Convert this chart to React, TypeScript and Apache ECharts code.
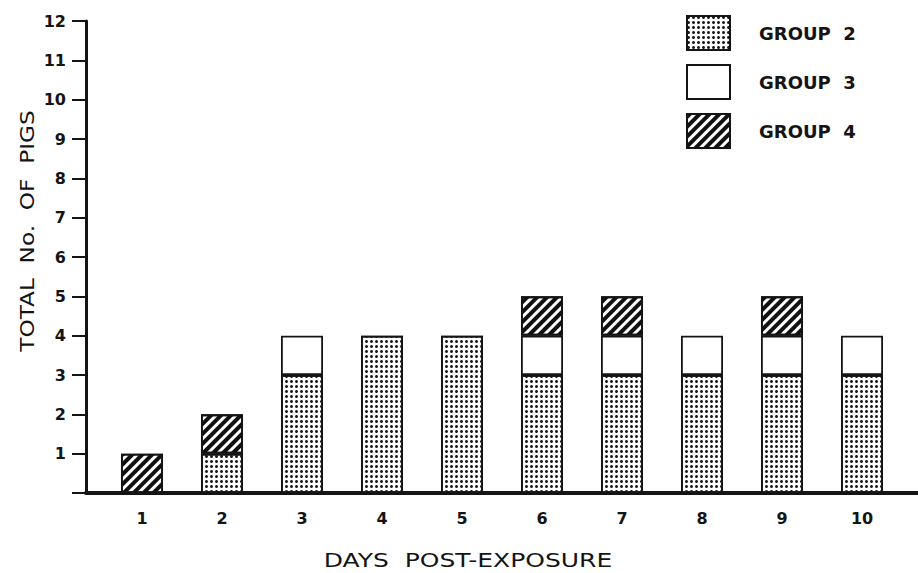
import React, { useEffect, useRef } from "react";
import * as echarts from "echarts";

const days = ["1", "2", "3", "4", "5", "6", "7", "8", "9", "10"];
const group2 = [0, 1, 3, 4, 4, 3, 3, 3, 3, 3];
const group3 = [0, 0, 1, 0, 0, 1, 1, 1, 1, 1];
const group4 = [1, 1, 0, 0, 0, 1, 1, 0, 1, 0];

const FONT = "DejaVu Sans";
const INK = "#141414";

const toData = (vals: number[]) => vals.map((v) => (v === 0 ? "-" : v));

export default function App() {
  const ref = useRef<HTMLDivElement>(null);
  useEffect(() => {
    if (!ref.current) return;
    const chart = echarts.init(ref.current, null, { renderer: "svg" });
    const border = { borderColor: INK, borderWidth: 1.8 };
    const dots = {
      symbol: "circle",
      symbolSize: 1,
      color: "#1a1a1a",
      dashArrayX: [2.2, 1.3],
      dashArrayY: [2.2, 1.3],
      rotation: 0,
    };
    const hatch = {
      symbol: "rect",
      symbolSize: 1,
      color: "#111",
      dashArrayX: [1, 0],
      dashArrayY: [3.2, 2.6],
      rotation: -Math.PI / 4,
    };
    chart.setOption({
      animation: false,
      backgroundColor: "#fff",
      textStyle: { fontFamily: FONT, color: INK },
      grid: [
        { left: 102, right: 16, top: 21, bottom: 80 },
        { left: 86, right: 0, top: 21, bottom: 80 },
      ],
      legend: {
        orient: "vertical",
        left: 686,
        top: 15,
        padding: 0,
        itemWidth: 43,
        itemHeight: 34,
        itemGap: 13,
        icon: "rect",
        textStyle: {
          fontFamily: FONT,
          fontSize: 18,
          fontWeight: "bold",
          color: INK,
          padding: [0, 0, 0, 24],
        },
        formatter: (n: string) => n.replace(" ", "  "),
      },
      xAxis: [
        {
          gridIndex: 0,
          type: "category",
          data: days,
          boundaryGap: true,
          axisLine: { show: false },
          axisTick: { show: false },
          axisLabel: {
            margin: 17,
            fontSize: 16,
            fontWeight: "bold",
            color: INK,
            fontFamily: FONT,
          },
        },
        {
          gridIndex: 1,
          type: "value",
          min: 0,
          max: 1,
          splitLine: { show: false },
          axisLine: { show: true, onZero: false, lineStyle: { color: INK, width: 4 } },
          axisTick: { show: false },
          axisLabel: { show: false },
        },
      ],
      yAxis: [
        {
          gridIndex: 0,
          type: "value",
          min: 0,
          max: 12,
          show: false,
        },
        {
          gridIndex: 1,
          type: "value",
          min: 0,
          max: 12,
          interval: 1,
          splitLine: { show: false },
          axisLine: { show: true, lineStyle: { color: INK, width: 3 } },
          axisTick: { show: true, length: 14, lineStyle: { color: INK, width: 2 } },
          axisLabel: {
            margin: 20,
            fontSize: 16,
            fontWeight: "bold",
            color: INK,
            fontFamily: FONT,
            formatter: (v: number) => (v === 0 ? "" : String(v)),
          },
        },
      ],
      series: [
        {
          name: "GROUP 2",
          type: "bar",
          stack: "t",
          barWidth: 42,
          data: toData(group2),
          itemStyle: { color: "#fff", ...border, decal: dots },
        },
        {
          name: "GROUP 3",
          type: "bar",
          stack: "t",
          barWidth: 42,
          data: toData(group3),
          itemStyle: { color: "#fff", ...border },
        },
        {
          name: "GROUP 4",
          type: "bar",
          stack: "t",
          barWidth: 42,
          data: toData(group4),
          itemStyle: { color: "#fff", ...border, decal: hatch },
        },
      ],
      graphic: [
        {
          type: "text",
          x: 27,
          y: 231,
          rotation: Math.PI / 2,
          scaleX: 1.16,
          style: {
            text: "TOTAL  No.  OF  PIGS",
            fontFamily: FONT,
            fontSize: 20,
            fill: INK,
            align: "center",
            verticalAlign: "middle",
          },
        },
        {
          type: "text",
          x: 468,
          y: 560,
          scaleX: 1.25,
          style: {
            text: "DAYS  POST-EXPOSURE",
            fontFamily: FONT,
            fontSize: 20,
            fill: INK,
            align: "center",
            verticalAlign: "middle",
          },
        },
      ],
    });
    return () => chart.dispose();
  }, []);
  return <div ref={ref} style={{ width: 918, height: 573, position: "absolute", left: 0, top: 0 }} />;
}
